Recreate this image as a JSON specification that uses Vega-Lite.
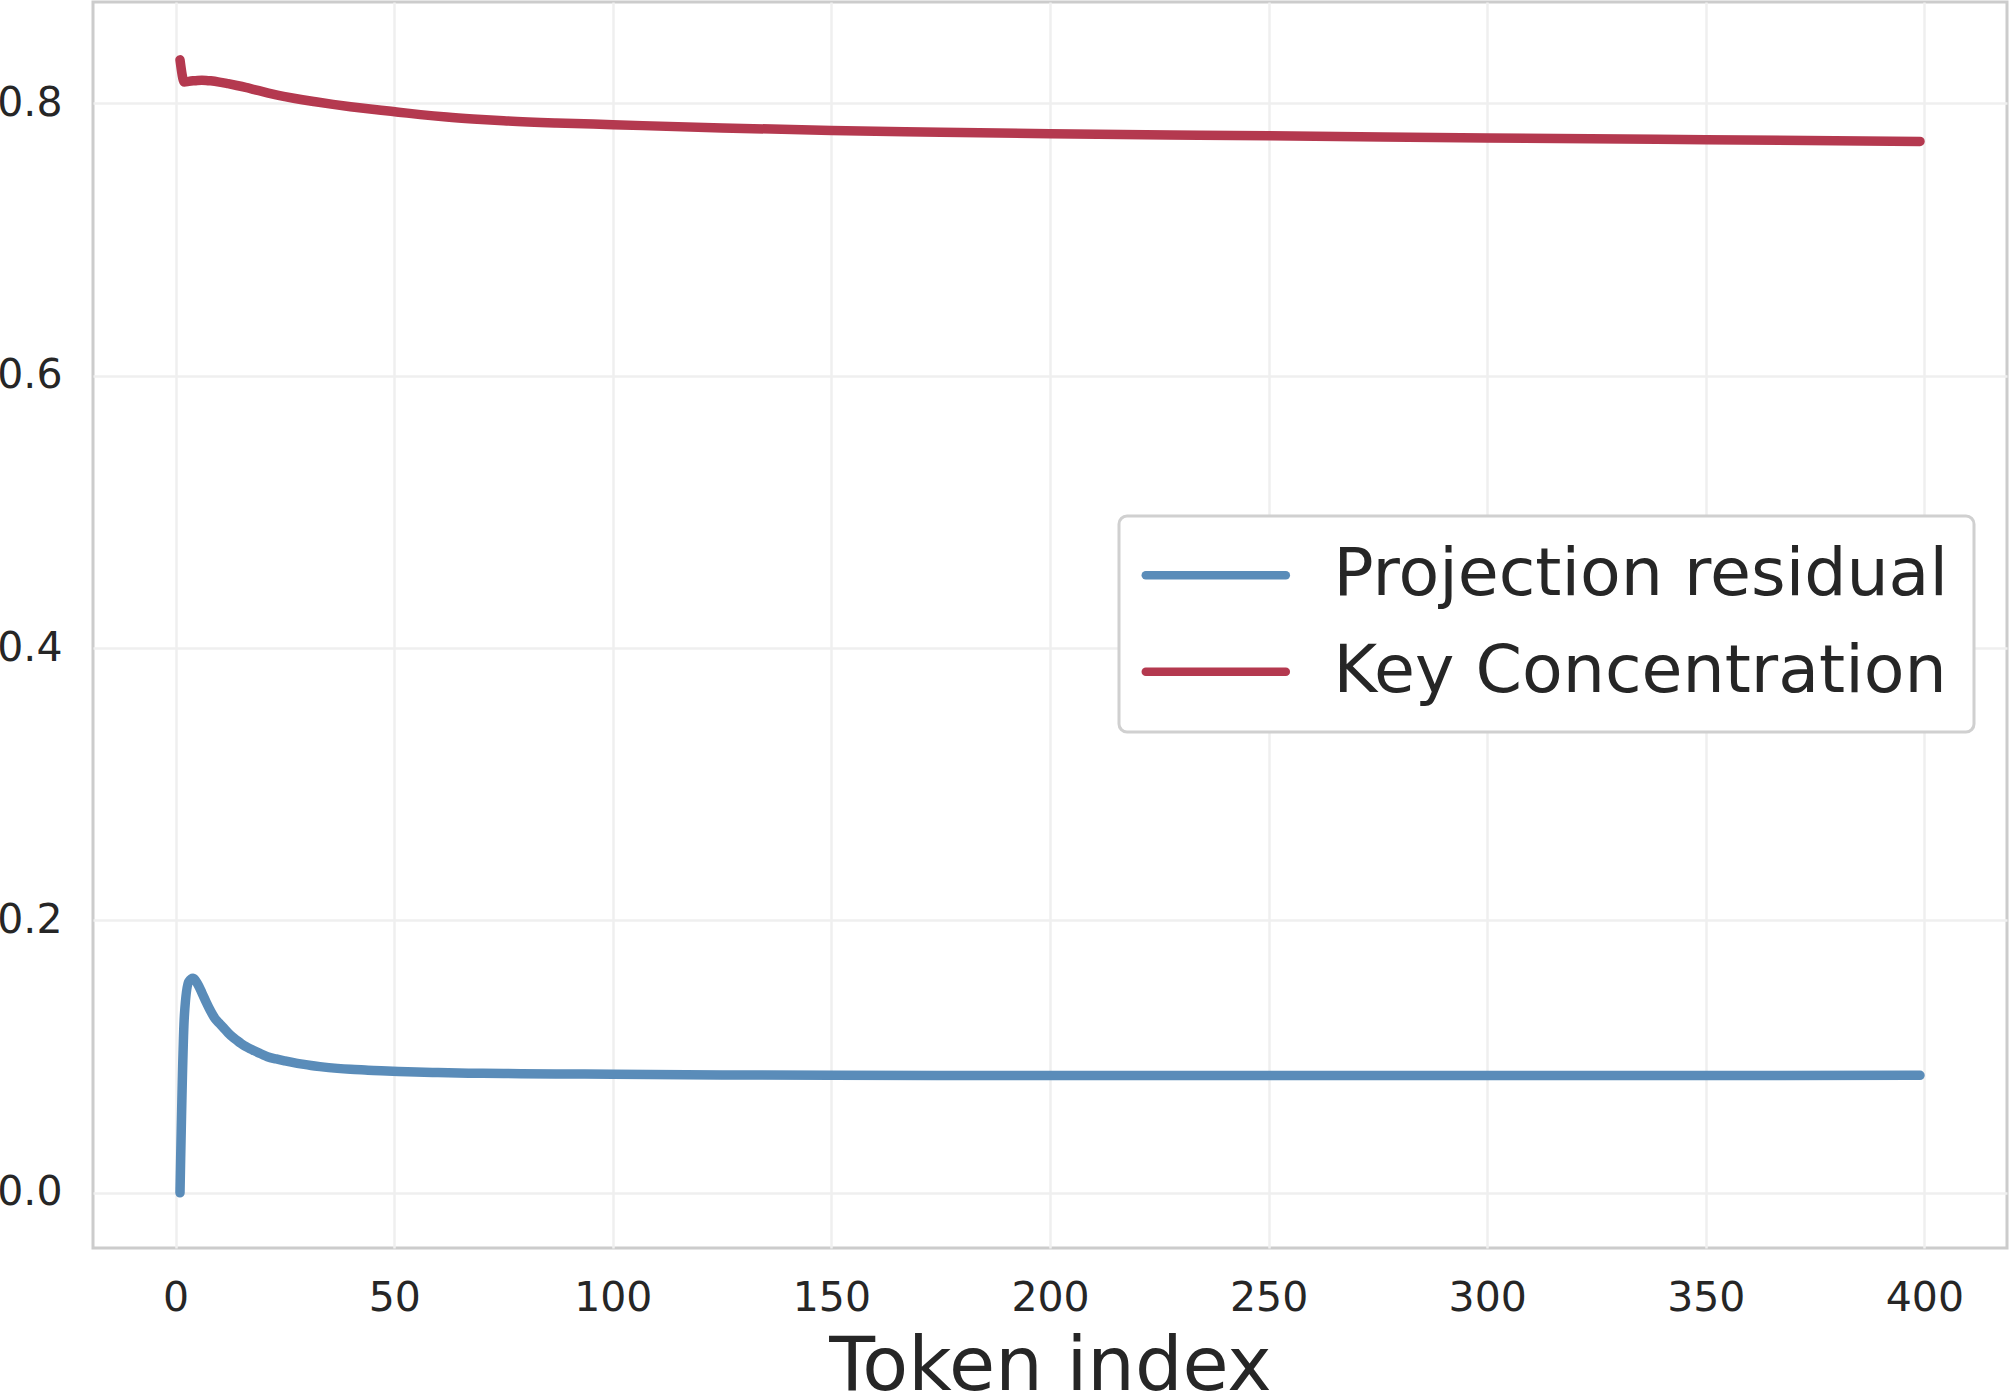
{
  "$schema": "https://vega.github.io/schema/vega-lite/v6.json",
  "width": 1914,
  "height": 1246,
  "autosize": "none",
  "padding": {"left": 93, "top": 2, "right": 4, "bottom": 145},
  "background": "white",
  "config": {
    "view": {"stroke": "#cccccc", "strokeWidth": 3},
    "font": "DejaVu Sans"
  },
  "data": {
    "values": [
      {"x": 1, "series": "Projection residual", "y": 0.0},
      {"x": 2, "series": "Projection residual", "y": 0.130},
      {"x": 3, "series": "Projection residual", "y": 0.155},
      {"x": 4, "series": "Projection residual", "y": 0.1575},
      {"x": 5, "series": "Projection residual", "y": 0.1535},
      {"x": 6, "series": "Projection residual", "y": 0.147},
      {"x": 7, "series": "Projection residual", "y": 0.140},
      {"x": 8, "series": "Projection residual", "y": 0.1335},
      {"x": 9, "series": "Projection residual", "y": 0.128},
      {"x": 10, "series": "Projection residual", "y": 0.1245},
      {"x": 11, "series": "Projection residual", "y": 0.121},
      {"x": 12, "series": "Projection residual", "y": 0.1175},
      {"x": 13, "series": "Projection residual", "y": 0.1145},
      {"x": 14, "series": "Projection residual", "y": 0.112},
      {"x": 15, "series": "Projection residual", "y": 0.1096},
      {"x": 16, "series": "Projection residual", "y": 0.1075},
      {"x": 17, "series": "Projection residual", "y": 0.1058},
      {"x": 18, "series": "Projection residual", "y": 0.1043},
      {"x": 19, "series": "Projection residual", "y": 0.1028},
      {"x": 20, "series": "Projection residual", "y": 0.1013},
      {"x": 21, "series": "Projection residual", "y": 0.1000},
      {"x": 23, "series": "Projection residual", "y": 0.0983},
      {"x": 25, "series": "Projection residual", "y": 0.0969},
      {"x": 27, "series": "Projection residual", "y": 0.0956},
      {"x": 29, "series": "Projection residual", "y": 0.0945},
      {"x": 31, "series": "Projection residual", "y": 0.0935},
      {"x": 33, "series": "Projection residual", "y": 0.0927},
      {"x": 37, "series": "Projection residual", "y": 0.0914},
      {"x": 40, "series": "Projection residual", "y": 0.0907},
      {"x": 44, "series": "Projection residual", "y": 0.0901},
      {"x": 47, "series": "Projection residual", "y": 0.0896},
      {"x": 51, "series": "Projection residual", "y": 0.0891},
      {"x": 55, "series": "Projection residual", "y": 0.0887},
      {"x": 60, "series": "Projection residual", "y": 0.0883},
      {"x": 67, "series": "Projection residual", "y": 0.0879},
      {"x": 75, "series": "Projection residual", "y": 0.0876},
      {"x": 87, "series": "Projection residual", "y": 0.0873},
      {"x": 100, "series": "Projection residual", "y": 0.0871},
      {"x": 125, "series": "Projection residual", "y": 0.0866},
      {"x": 150, "series": "Projection residual", "y": 0.0863},
      {"x": 200, "series": "Projection residual", "y": 0.0862},
      {"x": 250, "series": "Projection residual", "y": 0.0862},
      {"x": 300, "series": "Projection residual", "y": 0.0861},
      {"x": 350, "series": "Projection residual", "y": 0.0862},
      {"x": 399, "series": "Projection residual", "y": 0.0863},
      {"x": 1, "series": "Key Concentration", "y": 0.832},
      {"x": 2, "series": "Key Concentration", "y": 0.8157},
      {"x": 3, "series": "Key Concentration", "y": 0.8162},
      {"x": 4, "series": "Key Concentration", "y": 0.8166},
      {"x": 5, "series": "Key Concentration", "y": 0.8169},
      {"x": 6, "series": "Key Concentration", "y": 0.817},
      {"x": 7, "series": "Key Concentration", "y": 0.8169},
      {"x": 8, "series": "Key Concentration", "y": 0.8166},
      {"x": 10, "series": "Key Concentration", "y": 0.8157},
      {"x": 12, "series": "Key Concentration", "y": 0.8145},
      {"x": 14, "series": "Key Concentration", "y": 0.8132},
      {"x": 16, "series": "Key Concentration", "y": 0.8118},
      {"x": 18, "series": "Key Concentration", "y": 0.8102},
      {"x": 21, "series": "Key Concentration", "y": 0.8078},
      {"x": 23, "series": "Key Concentration", "y": 0.8063},
      {"x": 25, "series": "Key Concentration", "y": 0.805},
      {"x": 27, "series": "Key Concentration", "y": 0.8038},
      {"x": 29, "series": "Key Concentration", "y": 0.8027},
      {"x": 32, "series": "Key Concentration", "y": 0.8012},
      {"x": 36, "series": "Key Concentration", "y": 0.7993},
      {"x": 40, "series": "Key Concentration", "y": 0.7976},
      {"x": 44, "series": "Key Concentration", "y": 0.7961},
      {"x": 47, "series": "Key Concentration", "y": 0.795},
      {"x": 51, "series": "Key Concentration", "y": 0.7936},
      {"x": 56, "series": "Key Concentration", "y": 0.7918},
      {"x": 62, "series": "Key Concentration", "y": 0.790},
      {"x": 68, "series": "Key Concentration", "y": 0.7886},
      {"x": 75, "series": "Key Concentration", "y": 0.7873},
      {"x": 87, "series": "Key Concentration", "y": 0.7857},
      {"x": 100, "series": "Key Concentration", "y": 0.7844},
      {"x": 125, "series": "Key Concentration", "y": 0.782},
      {"x": 150, "series": "Key Concentration", "y": 0.7802},
      {"x": 175, "series": "Key Concentration", "y": 0.7789},
      {"x": 200, "series": "Key Concentration", "y": 0.7778},
      {"x": 234, "series": "Key Concentration", "y": 0.7767},
      {"x": 250, "series": "Key Concentration", "y": 0.7763},
      {"x": 300, "series": "Key Concentration", "y": 0.7746},
      {"x": 350, "series": "Key Concentration", "y": 0.7734},
      {"x": 399, "series": "Key Concentration", "y": 0.7721}
    ]
  },
  "mark": {"type": "line", "strokeWidth": 9.5, "strokeCap": "round", "strokeJoin": "round", "interpolate": "monotone"},
  "encoding": {
    "x": {
      "field": "x", "type": "quantitative",
      "scale": {"domain": [-18.9, 418.9], "nice": false, "zero": false},
      "axis": {
        "values": [0, 50, 100, 150, 200, 250, 300, 350, 400],
        "title": "Token index",
        "titleFontSize": 75, "titleFont": "DejaVu Sans", "titleFontWeight": "normal", "titleColor": "#262626",
        "titleBaseline": "alphabetic", "titleY": 141,
        "labelFontSize": 41, "labelFont": "DejaVu Sans", "labelColor": "#262626",
        "labelPadding": 30, "ticks": false, "tickSize": 0, "domain": false,
        "grid": true, "gridColor": "#efefef", "gridWidth": 2.5,
        "labelFlush": false, "labelOverlap": false
      }
    },
    "y": {
      "field": "y", "type": "quantitative",
      "scale": {"domain": [-0.0405, 0.8745], "nice": false, "zero": false},
      "axis": {
        "values": [0, 0.2, 0.4, 0.6, 0.8],
        "format": ".1f",
        "title": null,
        "labelFontSize": 41, "labelFont": "DejaVu Sans", "labelColor": "#262626",
        "labelPadding": 31, "ticks": false, "tickSize": 0, "domain": false,
        "grid": true, "gridColor": "#efefef", "gridWidth": 2.5,
        "labelFlush": false, "labelOverlap": false
      }
    },
    "color": {
      "field": "series", "type": "nominal",
      "scale": {"domain": ["Projection residual", "Key Concentration"], "range": ["#5a8cb9", "#b4394f"]},
      "legend": {
        "title": null,
        "orient": "none", "legendX": 1026, "legendY": 514,
        "symbolType": "M-5,0H5", "symbolSize": 784, "symbolStrokeWidth": 8.5,
        "symbolOffset": 37.5,
        "labelFontSize": 66.6, "labelFont": "DejaVu Sans", "labelColor": "#262626",
        "labelOffset": 84.5, "rowPadding": 29.5,
        "padding": 26,
        "fillColor": "white", "strokeColor": "#d0d0d0", "cornerRadius": 8,
        "labelLimit": 1000,
        "encode": {
          "symbols": {"update": {"strokeCap": {"value": "round"}}},
          "legend": {"update": {"strokeWidth": {"value": 3}}}
        }
      }
    }
  }
}
